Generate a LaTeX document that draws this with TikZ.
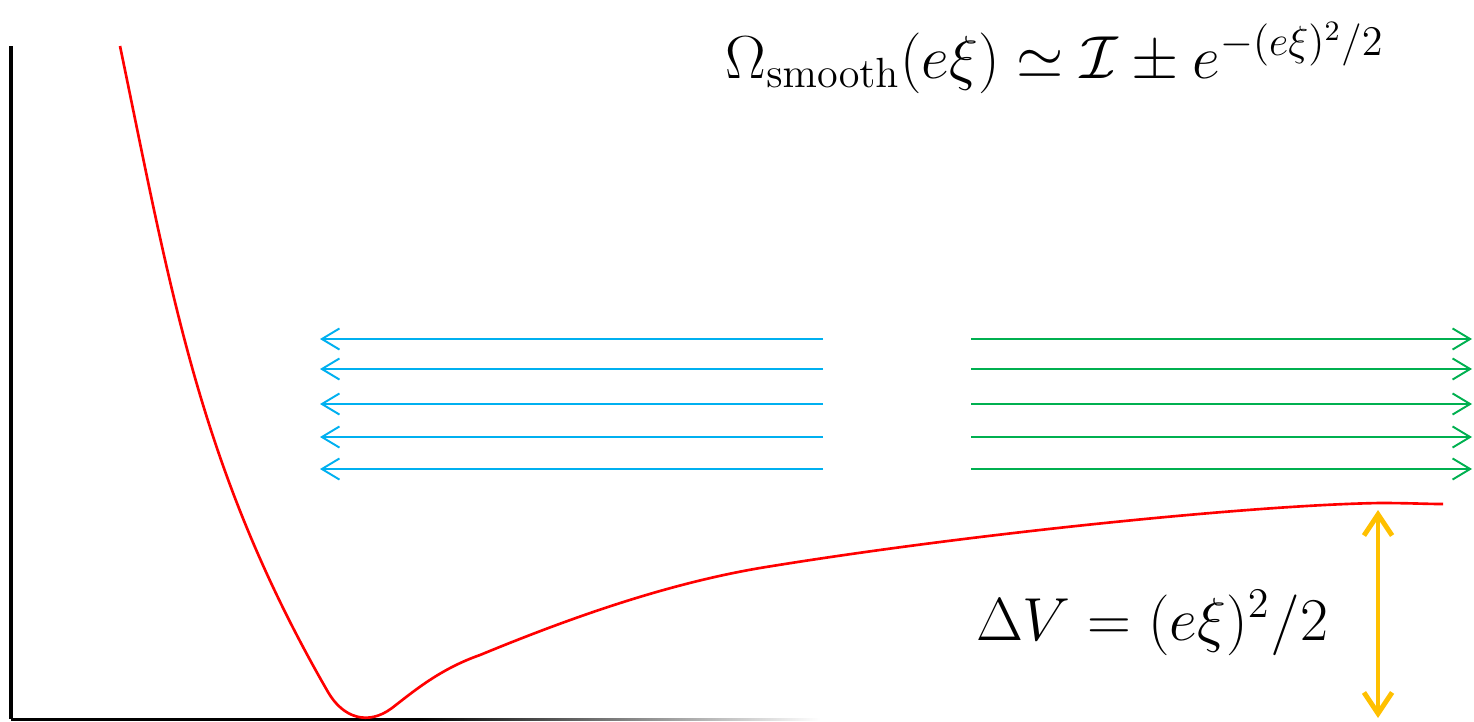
\documentclass[tikz,border=0pt]{standalone}
\usepackage{amsmath}
\usepackage{amssymb}
\usepackage{xcolor}
\usepackage{tikz}
\usetikzlibrary{positioning,arrows.meta}
\definecolor{potred}{RGB}{255,0,0}
\definecolor{leftblue}{RGB}{0,176,240}
\definecolor{rightgreen}{RGB}{0,176,80}
\definecolor{gapyellow}{RGB}{255,192,0}

\begin{document}
\begin{tikzpicture}[
    x=0.01cm, y=-0.01cm,
    axisline/.style={line width=0.9pt, black},
    potential/.style={line width=0.75pt, potred},
    leftflow/.style={line width=0.55pt, leftblue, -{Straight Barb[length=5pt,width=6pt]}},
    rightflow/.style={line width=0.55pt, rightgreen, -{Straight Barb[length=5pt,width=6pt]}},
    gaparrow/.style={line width=1.4pt, gapyellow, line cap=round,
        {Straight Barb[length=6pt,width=8pt]}-{Straight Barb[length=6pt,width=8pt]}},
    formula/.style={inner sep=0pt, font=\fontsize{16.5}{19}\selectfont}
]
    \useasboundingbox (0,0) rectangle (1474,721);

    % axes
    \draw[axisline] (11,46) -- (11,719);
    \fill[black] (11,718.2) rectangle (420,720.5);
    \shade[left color=black, right color=white] (420,718.2) rectangle (820,720.5);

    % potential
    \draw[potential] (120,46) .. controls (172,296) and (200,470) .. (328,692)
        .. controls (343,718) and (368,726) .. (392,708)
        .. controls (414,691) and (440,669) .. (480,655)
        .. controls (560,622) and (660,585) .. (760,568)
        .. controls (960,535) and (1250,505) .. (1380,503)
        .. controls (1410,503) and (1425,504) .. (1443,504);

    % flows
    \foreach \yy [count=\i] in {339,369,404,437,469} {
        \coordinate (blue start \i) at (823,\yy);
        \coordinate (blue end \i) at (320,\yy);
        \coordinate (green start \i) at (971,\yy);
        \coordinate (green end \i) at (1472,\yy);
        \draw[leftflow] (blue start \i) -- (blue end \i);
        \draw[rightflow] (green start \i) -- (green end \i);
    }

    % barrier height
    \coordinate (barrier top) at (1378,510);
    \coordinate (barrier bottom) at (1378,718);
    \draw[gaparrow] (barrier top) -- (barrier bottom);

    \node[formula, anchor=base] (omega label) at (1055,78)
        {$\Omega_{\mathrm{smooth}}(e\xi)\simeq\mathcal{I}\pm e^{-(e\xi)^2/2}$};
    \node[formula, anchor=base] (gap label) at (1152,640)
        {$\Delta V=(e\xi)^2/2$};
\end{tikzpicture}
\end{document}
